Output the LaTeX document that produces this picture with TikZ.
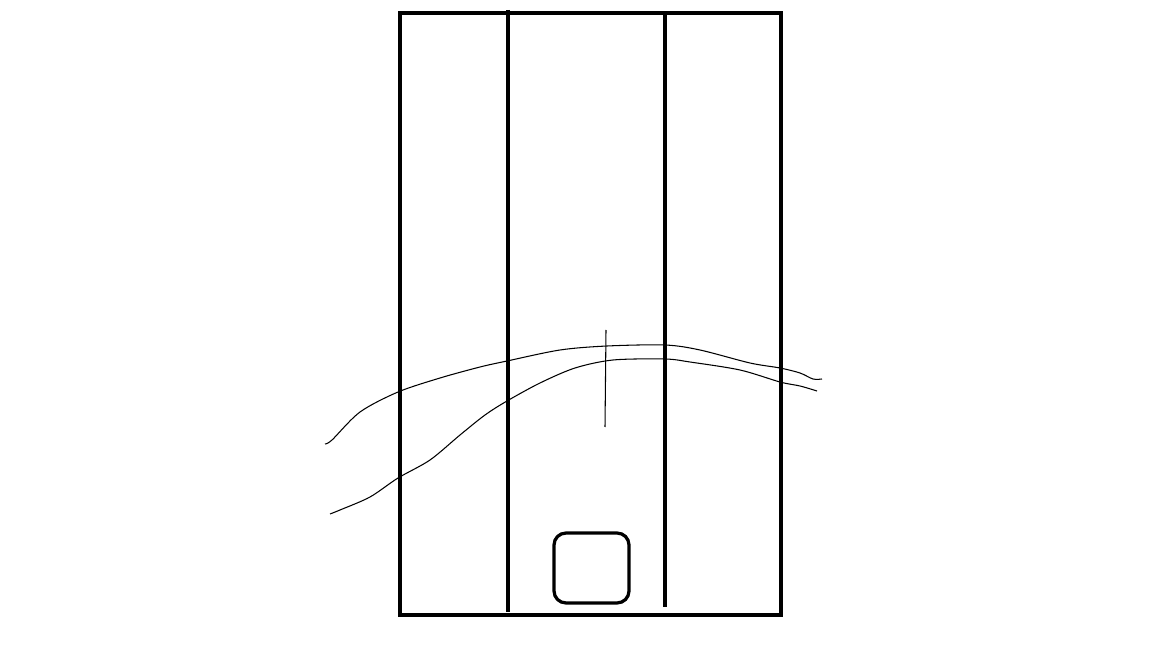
\documentclass[tikz,border=0pt]{standalone}
\usepackage{tikz}
\usetikzlibrary{calc}

\tikzset{
    thick line/.style={line width=2.9pt},
    thin line/.style={line width=0.75pt, line join=round}
}

\begin{document}
\begin{tikzpicture}[x=0.025cm, y=-0.025cm]
    \useasboundingbox (0,0) rectangle (1152,648);

    \draw[thick line]
        (400,13) coordinate (A) --
        (781,13) coordinate (B) --
        (781,615) coordinate (C) --
        (400,615) coordinate (D) -- cycle;

    \draw[thick line] (508,10) -- (508,612);
    \draw[thick line] (665,15) -- (665,607);

    \draw[line width=2.3pt, rounded corners=0.3cm]
        (554,533) rectangle (629,603);

    \draw[thin line] plot[smooth, tension=0.5] coordinates {
        (325,444) (332,440) (360,412) (398,392) (440,378) (480,367)
        (507,361) (560,350) (607,346) (665,345) (700,350) (750,363)
        (780,368) (800,373) (813,379) (822,379)};
    \draw[thin line] plot[smooth, tension=0.5] coordinates {
        (330,514) (340,510) (370,497) (398,478) (430,460) (460,435)
        (485,415) (507,401) (540,383) (575,368) (613,360) (665,359)
        (690,362) (740,370) (780,382) (800,386) (817,391)};

    \draw[thin line] (606,330) -- (605,427);
\end{tikzpicture}
\end{document}
